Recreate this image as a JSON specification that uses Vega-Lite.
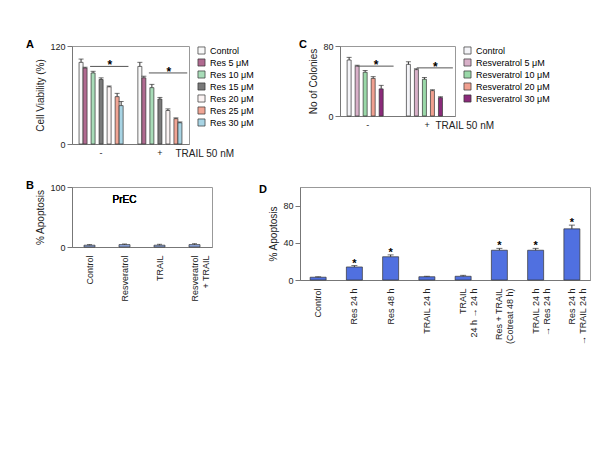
{
  "$schema": "https://vega.github.io/schema/vega-lite/v6.json",
  "background": "white",
  "padding": {"left": 25, "top": 38, "right": 5, "bottom": 5},
  "resolve": {"scale": {"color": "independent", "y": "independent", "x": "independent"}, "legend": {"color": "independent"}},
  "config": {
    "font": "Liberation Sans",
    "view": {"stroke": "#999"},
    "axis": {"labelFontSize": 9, "titleFontSize": 10, "titleFontWeight": "normal", "grid": false, "domainColor": "#777", "tickColor": "#777", "labelColor": "#222", "titleColor": "#222", "labelOverlap": false},
    "legend": {"labelFontSize": 9, "symbolType": "square", "symbolSize": 50, "symbolStrokeColor": "#333", "symbolStrokeWidth": 0.7, "rowPadding": 1, "labelFont": "Liberation Sans", "orient": "right", "offset": 8},
    "title": {"fontSize": 11, "fontWeight": "bold", "anchor": "start", "frame": "bounds", "offset": -8},
    "text": {"fontWeight": "normal"}
  },
  "vconcat": [
    {
      "spacing": 40,
      "resolve": {"scale": {"color": "independent", "y": "independent", "x": "independent"}, "legend": {"color": "independent"}},
      "hconcat": [
        {
          "width": 117, "height": 98,
          "title": {"text": "A", "dx": -10},
          "data": {"values": [
            {"g": "-", "t": "Control", "v": 100, "e": 4}, {"g": "-", "t": "Res 5  μM", "v": 93, "e": 1}, {"g": "-", "t": "Res 10  μM", "v": 87, "e": 2}, {"g": "-", "t": "Res 15  μM", "v": 79, "e": 2}, {"g": "-", "t": "Res 20  μM", "v": 70, "e": 1}, {"g": "-", "t": "Res 25  μM", "v": 58, "e": 4}, {"g": "-", "t": "Res 30  μM", "v": 47, "e": 5},
            {"g": "+", "t": "Control", "v": 95, "e": 5}, {"g": "+", "t": "Res 5  μM", "v": 81, "e": 2}, {"g": "+", "t": "Res 10  μM", "v": 69, "e": 4}, {"g": "+", "t": "Res 15  μM", "v": 55, "e": 2}, {"g": "+", "t": "Res 20  μM", "v": 41, "e": 2}, {"g": "+", "t": "Res 25  μM", "v": 31, "e": 1}, {"g": "+", "t": "Res 30  μM", "v": 26, "e": 1}
          ]},
          "encoding": {
            "x": {"field": "g", "type": "nominal", "sort": ["-", "+"], "scale": {"paddingInner": 0.25, "paddingOuter": 0.12}, "axis": {"title": "TRAIL 50 nM", "labelAngle": 0, "ticks": false, "titleAngle": 0, "titleX": 103, "titleY": 9, "titleAlign": "left", "titleBaseline": "middle", "labelPadding": 4}},
            "xOffset": {"field": "t", "sort": ["Control", "Res 5  μM", "Res 10  μM", "Res 15  μM", "Res 20  μM", "Res 25  μM", "Res 30  μM"]}
          },
          "layer": [
            {
              "mark": {"type": "bar", "stroke": "#333", "strokeWidth": 0.7},
              "encoding": {
                "y": {"field": "v", "type": "quantitative", "scale": {"domain": [0, 120]}, "axis": {"title": "Cell Viability (%)", "values": [0, 20, 40, 60, 80, 100, 120]}},
                "color": {"field": "t", "type": "nominal", "title": null, "scale": {"domain": ["Control", "Res 5  μM", "Res 10  μM", "Res 15  μM", "Res 20  μM", "Res 25  μM", "Res 30  μM"], "range": ["#f8f8f8", "#b06a90", "#a8dcb8", "#7a7a7a", "#fbf3f3", "#f0a595", "#a8d4e4"]}}
              }
            },
            {
              "transform": [{"calculate": "datum.v + datum.e", "as": "top"}],
              "mark": {"type": "rule", "color": "#333"},
              "encoding": {"y": {"field": "v", "type": "quantitative"}, "y2": {"field": "top"}}
            },
            {
              "transform": [{"calculate": "datum.v + datum.e", "as": "top"}],
              "mark": {"type": "tick", "color": "#333", "size": 5, "thickness": 1},
              "encoding": {"y": {"field": "top", "type": "quantitative"}}
            },
            {
              "data": {"values": [{"g": "-", "y": 95}, {"g": "+", "y": 87}]},
              "mark": {"type": "rule", "color": "#555"},
              "encoding": {"x": {"field": "g", "type": "nominal", "bandPosition": 0.25}, "x2": {"field": "g", "bandPosition": 1.12}, "xOffset": null, "y": {"field": "y", "type": "quantitative"}}
            },
            {
              "data": {"values": [{"g": "-", "y": 95}, {"g": "+", "y": 87}]},
              "mark": {"type": "text", "text": "*", "fontSize": 12, "fontWeight": "bold", "baseline": "bottom", "dy": 6},
              "encoding": {"x": {"field": "g", "type": "nominal", "bandPosition": 0.7}, "xOffset": null, "y": {"field": "y", "type": "quantitative"}}
            }
          ]
        },
        {
          "width": 115, "height": 70,
          "title": {"text": "C", "dx": -10},
          "data": {"values": [
            {"g": "-", "t": "Control", "v": 64, "e": 3}, {"g": "-", "t": "Resveratrol 5  μM", "v": 57, "e": 1}, {"g": "-", "t": "Resveratrol 10  μM", "v": 50, "e": 2}, {"g": "-", "t": "Resveratrol 20  μM", "v": 43, "e": 2}, {"g": "-", "t": "Resveratrol 30  μM", "v": 31, "e": 4},
            {"g": "+", "t": "Control", "v": 59, "e": 3}, {"g": "+", "t": "Resveratrol 5  μM", "v": 53, "e": 1}, {"g": "+", "t": "Resveratrol 10  μM", "v": 42, "e": 2}, {"g": "+", "t": "Resveratrol 20  μM", "v": 29, "e": 1}, {"g": "+", "t": "Resveratrol 30  μM", "v": 21, "e": 1}
          ]},
          "encoding": {
            "x": {"field": "g", "type": "nominal", "sort": ["-", "+"], "scale": {"paddingInner": 0.3, "paddingOuter": 0.12}, "axis": {"title": "TRAIL 50 nM", "labelAngle": 0, "ticks": false, "titleAngle": 0, "titleX": 95, "titleY": 9, "titleAlign": "left", "titleBaseline": "middle", "labelPadding": 4}},
            "xOffset": {"field": "t", "sort": ["Control", "Resveratrol 5  μM", "Resveratrol 10  μM", "Resveratrol 20  μM", "Resveratrol 30  μM"]}
          },
          "layer": [
            {
              "mark": {"type": "bar", "stroke": "#333", "strokeWidth": 0.7},
              "encoding": {
                "y": {"field": "v", "type": "quantitative", "scale": {"domain": [0, 80]}, "axis": {"title": "No of Colonies", "values": [0, 20, 40, 60, 80]}},
                "color": {"field": "t", "type": "nominal", "title": null, "scale": {"domain": ["Control", "Resveratrol 5  μM", "Resveratrol 10  μM", "Resveratrol 20  μM", "Resveratrol 30  μM"], "range": ["#f4f4f8", "#d8b0c8", "#9ad8a8", "#f0a090", "#8a2a7a"]}}
              }
            },
            {
              "transform": [{"calculate": "datum.v + datum.e", "as": "top"}],
              "mark": {"type": "rule", "color": "#333"},
              "encoding": {"y": {"field": "v", "type": "quantitative"}, "y2": {"field": "top"}}
            },
            {
              "transform": [{"calculate": "datum.v + datum.e", "as": "top"}],
              "mark": {"type": "tick", "color": "#333", "size": 5, "thickness": 1},
              "encoding": {"y": {"field": "top", "type": "quantitative"}}
            },
            {
              "data": {"values": [{"g": "-", "y": 57}, {"g": "+", "y": 55}]},
              "mark": {"type": "rule", "color": "#555"},
              "encoding": {"x": {"field": "g", "type": "nominal", "bandPosition": 0.25}, "x2": {"field": "g", "bandPosition": 1.12}, "xOffset": null, "y": {"field": "y", "type": "quantitative"}}
            },
            {
              "data": {"values": [{"g": "-", "y": 57}, {"g": "+", "y": 55}]},
              "mark": {"type": "text", "text": "*", "fontSize": 12, "fontWeight": "bold", "baseline": "bottom", "dy": 6},
              "encoding": {"x": {"field": "g", "type": "nominal", "bandPosition": 0.7}, "xOffset": null, "y": {"field": "y", "type": "quantitative"}}
            }
          ]
        }
      ]
    },
    {
      "spacing": 45,
      "resolve": {"scale": {"y": "independent", "x": "independent"}},
      "hconcat": [
        {
          "width": 140, "height": 60,
          "title": {"text": "B", "dx": -10},
          "data": {"values": [
            {"c": "Control", "v": 3, "e": 1}, {"c": "Resveratrol", "v": 4, "e": 1}, {"c": "TRAIL", "v": 3, "e": 1.5}, {"c": "Resveratrol|+ TRAIL", "v": 4, "e": 1.5}
          ]},
          "encoding": {
            "x": {"field": "c", "type": "nominal", "sort": null, "axis": {"title": null, "labelAngle": -90, "ticks": false, "labelPadding": 8, "labelExpr": "split(datum.label, '|')"}}
          },
          "layer": [
            {
              "mark": {"type": "bar", "fill": "#8fa8e0", "stroke": "#333", "strokeWidth": 0.7, "width": 11},
              "encoding": {"y": {"field": "v", "type": "quantitative", "scale": {"domain": [0, 100]}, "axis": {"title": "% Apoptosis", "values": [0, 20, 40, 60, 80, 100]}}}
            },
            {
              "transform": [{"calculate": "datum.v + datum.e", "as": "top"}],
              "mark": {"type": "rule", "color": "#333"},
              "encoding": {"y": {"field": "v", "type": "quantitative"}, "y2": {"field": "top"}}
            },
            {
              "transform": [{"calculate": "datum.v + datum.e", "as": "top"}],
              "mark": {"type": "tick", "color": "#333", "size": 5, "thickness": 1},
              "encoding": {"y": {"field": "top", "type": "quantitative"}}
            },
            {
              "mark": {"type": "text", "text": "PrEC", "fontSize": 10, "fontWeight": "normal"},
              "encoding": {"x": {"datum": "Resveratrol"}, "y": {"datum": 78}}
            }
          ]
        },
        {
          "width": 290, "height": 93,
          "title": {"text": "D", "dx": -10},
          "data": {"values": [
            {"c": "Control", "v": 3, "e": 0.5, "s": ""},
            {"c": "Res 24 h", "v": 14, "e": 1.5, "s": "*"},
            {"c": "Res 48 h", "v": 25, "e": 2, "s": "*"},
            {"c": "TRAIL 24 h", "v": 3.5, "e": 0.5, "s": ""},
            {"c": "TRAIL|24 h → 24 h", "v": 4, "e": 1, "s": ""},
            {"c": "Res + TRAIL|(Cotreat 48 h)", "v": 32, "e": 2, "s": "*"},
            {"c": "TRAIL 24 h|→ Res 24 h", "v": 32, "e": 2, "s": "*"},
            {"c": "Res 24 h|→ TRAIL 24 h", "v": 55, "e": 4, "s": "*"}
          ]},
          "encoding": {
            "x": {"field": "c", "type": "nominal", "sort": null, "axis": {"title": null, "labelAngle": -90, "ticks": false, "labelPadding": 8, "labelExpr": "split(datum.label, '|')"}}
          },
          "layer": [
            {
              "mark": {"type": "bar", "fill": "#5070e0", "stroke": "#333", "strokeWidth": 0.7, "width": 16},
              "encoding": {"y": {"field": "v", "type": "quantitative", "scale": {"domain": [0, 100]}, "axis": {"title": "% Apoptosis", "values": [0, 20, 40, 60, 80, 100]}}}
            },
            {
              "transform": [{"calculate": "datum.v + datum.e", "as": "top"}],
              "mark": {"type": "rule", "color": "#333"},
              "encoding": {"y": {"field": "v", "type": "quantitative"}, "y2": {"field": "top"}}
            },
            {
              "transform": [{"calculate": "datum.v + datum.e", "as": "top"}],
              "mark": {"type": "tick", "color": "#333", "size": 6, "thickness": 1},
              "encoding": {"y": {"field": "top", "type": "quantitative"}}
            },
            {
              "transform": [{"calculate": "datum.v + datum.e", "as": "top"}],
              "mark": {"type": "text", "fontSize": 11, "fontWeight": "bold", "dy": 3, "baseline": "bottom"},
              "encoding": {"y": {"field": "top", "type": "quantitative"}, "text": {"field": "s"}}
            }
          ]
        }
      ]
    }
  ]
}
